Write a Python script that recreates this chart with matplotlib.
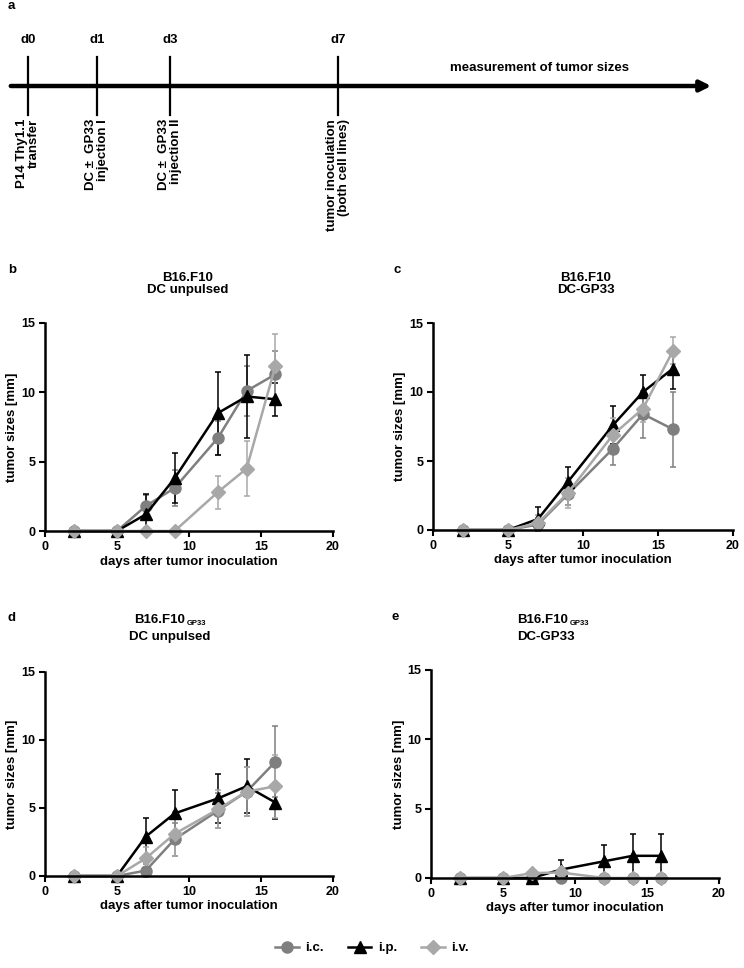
import matplotlib
matplotlib.use("Agg")
import matplotlib.pyplot as plt
from matplotlib.lines import Line2D

plt.rcParams['font.family'] = ['Liberation Sans Narrow', 'Liberation Sans', 'DejaVu Sans']
plt.rcParams['font.weight'] = 'bold'
plt.rcParams['axes.labelweight'] = 'bold'

W, H = 744, 968

# timeline (panel a)
tl_days = ['d0', 'd1', 'd3', 'd7']
tl_events = ['P14 Thy1.1\ntransfer', 'DC \u00b1  GP33\ninjection I',
             'DC \u00b1  GP33\ninjection II', 'tumor inoculation\n(both cell lines)']
tl_right = 'measurement of tumor sizes'

# tumour growth data
days = [2, 5, 7, 9, 12, 14, 16]
groups = ['i.c.', 'i.p.', 'i.v.']
xticks = [0, 5, 10, 15, 20]
yticks = [0, 5, 10, 15]

b_ic = [0, 0, 1.8, 3.1, 6.7, 10.1, 11.3]
b_ic_err = [0, 0, 0.8, 1.3, 1.2, 1.8, 1.7]
b_ip = [0, 0, 1.2, 3.8, 8.5, 9.7, 9.5]
b_ip_err = [0, 0, 1.5, 1.8, 3.0, 3.0, 1.2]
b_iv = [0, 0, 0, 0, 2.8, 4.5, 11.9]
b_iv_err = [0, 0, 0, 0, 1.2, 2.0, 2.3]

c_ic = [0, 0, 0.4, 2.6, 5.9, 8.4, 7.3]
c_ic_err = [0, 0, 0.5, 0.8, 1.2, 1.7, 2.7]
c_ip = [0, 0, 0.8, 3.5, 7.6, 10.0, 11.7]
c_ip_err = [0, 0, 0.9, 1.1, 1.4, 1.2, 1.5]
c_iv = [0, 0, 0.5, 2.7, 6.9, 8.8, 13.0]
c_iv_err = [0, 0, 0.6, 1.1, 1.2, 1.0, 1.0]

d_ic = [0, 0, 0.4, 2.7, 4.8, 6.2, 8.4]
d_ic_err = [0, 0, 0.5, 1.2, 1.3, 1.8, 2.6]
d_ip = [0, 0, 2.9, 4.6, 5.7, 6.6, 5.4]
d_ip_err = [0, 0, 1.4, 1.7, 1.8, 2.0, 1.2]
d_iv = [0, 0, 1.3, 3.1, 4.9, 6.2, 6.6]
d_iv_err = [0, 0, 0.8, 1.6, 1.4, 1.8, 2.3]

e_ic = [0, 0, 0, 0, 0, 0, 0]
e_ic_err = [0, 0, 0, 0, 0, 0, 0]
e_ip = [0, 0, 0, 0.6, 1.2, 1.6, 1.6]
e_ip_err = [0, 0, 0, 0.7, 1.15, 1.6, 1.6]
e_iv = [0, 0, 0.35, 0.4, 0, 0, 0]
e_iv_err = [0, 0, 0.2, 0.3, 0, 0, 0]

colors = ['#7f7f7f', 'black', '#a8a8a8']
markers = ['o', '^', 'D']
msizes = [8, 8, 7]

fig = plt.figure(figsize=(W / 100, H / 100), dpi=100)


def px_axes(x0, y0, x1, y1):
    return fig.add_axes([x0 / W, 1 - y1 / H, (x1 - x0) / W, (y1 - y0) / H])


# ---- panel a: schedule ----
ax_t = fig.add_axes([0, 0, 1, 1])
ax_t.set_xlim(0, W)
ax_t.set_ylim(H, 0)
ax_t.axis('off')
tl_x = [28, 97, 170, 338]
ax_t.annotate('', xy=(714, 86), xytext=(8, 86),
              arrowprops=dict(arrowstyle='-|>', lw=3.2, color='black', mutation_scale=16))
for x, dl, ev in zip(tl_x, tl_days, tl_events):
    ax_t.plot([x, x], [57, 115], color='black', lw=1.6)
    ax_t.text(x, 40, dl, ha='center', va='center', fontsize=9.5)
    ax_t.text(x, 119, ev, rotation=90, ha='center', va='top',
              multialignment='right', fontsize=9.5, linespacing=1.0)
ax_t.text(540, 68, tl_right, ha='center', va='center', fontsize=9.5)


def panel(rect, ic, ic_err, ip, ip_err, iv, iv_err):
    ax = px_axes(*rect)
    for vals, errs, col, mk, ms in zip([ic, ip, iv], [ic_err, ip_err, iv_err],
                                       colors, markers, msizes):
        ax.errorbar(days, vals, yerr=errs, color=col, marker=mk, markersize=ms,
                    lw=1.8, elinewidth=1.1, capsize=2.5, capthick=1.1, clip_on=False)
    ax.set_xlim(0, 20)
    ax.set_ylim(0, 15)
    ax.set_xticks(xticks, labels=[str(v) for v in xticks], fontweight='bold')
    ax.set_yticks(yticks, labels=[str(v) for v in yticks], fontweight='bold')
    for s in ['top', 'right']:
        ax.spines[s].set_visible(False)
    for s in ['left', 'bottom']:
        ax.spines[s].set_linewidth(1.8)
    ax.tick_params(direction='out', length=4, width=1.5, labelsize=9, pad=3)
    ax.set_xlabel('days after tumor inoculation', fontsize=9.5, fontweight='bold', labelpad=2)
    ax.set_ylabel('tumor sizes [mm]', fontsize=9.5, fontweight='bold', labelpad=2)
    return ax


ax_b = panel((45, 323, 333, 531), b_ic, b_ic_err, b_ip, b_ip_err, b_iv, b_iv_err)
ax_c = panel((433, 323, 733, 530), c_ic, c_ic_err, c_ip, c_ip_err, c_iv, c_iv_err)
ax_d = panel((45, 672, 333, 876), d_ic, d_ic_err, d_ip, d_ip_err, d_iv, d_iv_err)
ax_e = panel((431, 670, 719, 878), e_ic, e_ic_err, e_ip, e_ip_err, e_iv, e_iv_err)

# panel letters
for lt, x, y in [('a', 8, 6), ('b', 8, 270), ('c', 393, 270), ('d', 8, 618), ('e', 392, 617)]:
    fig.text(x / W, 1 - y / H, lt, ha='left', va='center', fontsize=9.5)

# titles
fig.text(188 / W, 1 - 284 / H, 'B16.F10\nDC unpulsed', ha='center', va='center',
         fontsize=9.5, linespacing=1.1)
fig.text(586 / W, 1 - 284 / H, 'B16.F10\nDC-GP33', ha='center', va='center',
         fontsize=9.5, linespacing=1.1)
t_d = fig.text(160 / W, 1 - 620 / H, 'B16.F10', ha='center', va='center', fontsize=9.5)
fig.text(170 / W, 1 - 637 / H, 'DC unpulsed', ha='center', va='center', fontsize=9.5)
t_e = fig.text(517 / W, 1 - 620 / H, 'B16.F10', ha='left', va='center', fontsize=9.5)
fig.text(517 / W, 1 - 637 / H, 'DC-GP33', ha='left', va='center', fontsize=9.5)
for t in [t_d, t_e]:
    ax_t.annotate('GP33', xy=(1.0, 0.0), xycoords=t, xytext=(1, -1),
                  textcoords='offset points', fontsize=5.5, ha='left', va='bottom')

# legend
handles = [Line2D([], [], color=c, marker=m, markersize=ms, lw=1.8)
           for c, m, ms in zip(colors, markers, msizes)]
fig.legend(handles, groups, loc='center', bbox_to_anchor=(372 / W, 1 - 948 / H),
           ncol=3, frameon=False, fontsize=9.5, handlelength=1.8, columnspacing=1.8,
           handletextpad=0.5)

fig.savefig('out.png', dpi=100)
